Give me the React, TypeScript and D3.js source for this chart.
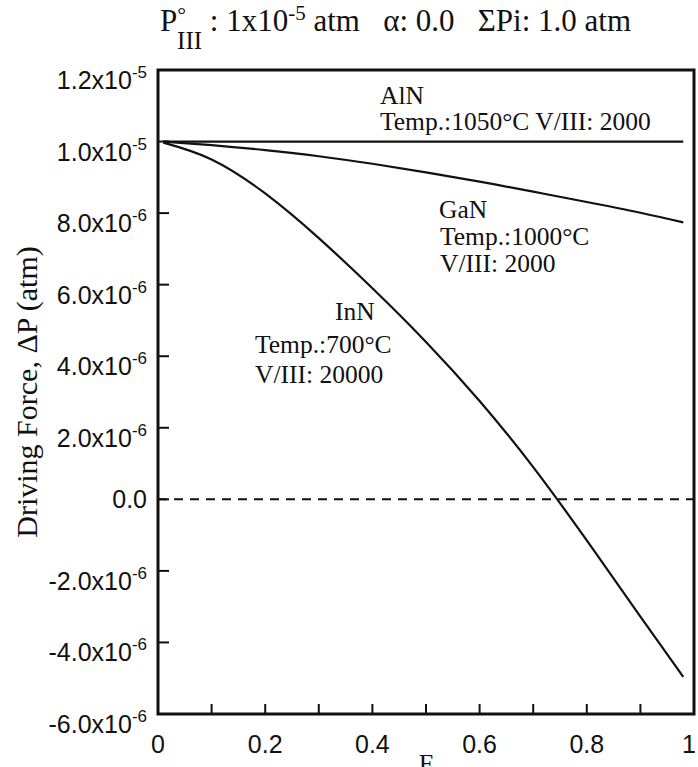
import React from "react";
import * as d3 from "d3";

// F (mole fraction) and driving force (atm)
const fValues = [0.01, 0.1, 0.2, 0.3, 0.4, 0.5, 0.6, 0.7, 0.8, 0.9, 0.98];
const alnValues = [1.0e-5, 1.0e-5, 1.0e-5, 1.0e-5, 1.0e-5, 1.0e-5, 1.0e-5, 1.0e-5, 1.0e-5, 1.0e-5, 1.0e-5];
const ganValues = [1.0e-5, 9.9e-6, 9.76e-6, 9.59e-6, 9.38e-6, 9.14e-6, 8.88e-6, 8.6e-6, 8.31e-6, 8.01e-6, 7.74e-6];
const innValues = [9.97e-6, 9.5e-6, 8.55e-6, 7.3e-6, 5.9e-6, 4.4e-6, 2.75e-6, 0.9e-6, -1.15e-6, -3.28e-6, -4.96e-6];

const xTicks = [0, 0.1, 0.2, 0.3, 0.4, 0.5, 0.6, 0.7, 0.8, 0.9, 1];
const xTickLabels = ["0", "", "0.2", "", "0.4", "", "0.6", "", "0.8", "", "1"];
const yTicks = [1.2e-5, 1.0e-5, 8e-6, 6e-6, 4e-6, 2e-6, 0, -2e-6, -4e-6, -6e-6];
const yTickMantissa = ["1.2", "1.0", "8.0", "6.0", "4.0", "2.0", "0.0", "-2.0", "-4.0", "-6.0"];
const yTickExponent = ["-5", "-5", "-6", "-6", "-6", "-6", "", "-6", "-6", "-6"];

const W = 698;
const H = 767;
const serif = "'Liberation Serif', 'Times New Roman', serif";
const sans = "'Liberation Sans', Arial, sans-serif";

export default function App() {
  const x = d3.scaleLinear().domain([0, 1]).range([158, 694]);
  const y = d3.scaleLinear().domain([-6e-6, 1.2e-5]).range([714, 70]);

  const line = d3
    .line<number>()
    .x((_, i) => x(fValues[i]))
    .y((d) => y(d))
    .curve(d3.curveNatural);

  const annot = { fontFamily: serif, fontSize: 25.5, fill: "#111" };

  return (
    <svg
      width={W}
      height={H}
      style={{ position: "absolute", left: 0, top: 0, background: "#fff" }}
    >
      {/* title */}
      <text x={160} y={31} fontFamily={serif} fontSize={31} fill="#111" style={{ whiteSpace: "pre" }}>
        <tspan>P</tspan>
        <tspan dy={-9} fontSize={22}>°</tspan>
        <tspan dx={-9} dy={27} fontSize={25}>III</tspan>
        <tspan dy={-18}> : 1x10</tspan>
        <tspan dy={-11} fontSize={21}>-5</tspan>
        <tspan dy={11}>{" atm   α: 0.0   ΣPi: 1.0 atm"}</tspan>
      </text>

      {/* zero line */}
      <line
        x1={x(0)}
        x2={x(1)}
        y1={y(0)}
        y2={y(0)}
        stroke="#111"
        strokeWidth={2}
        strokeDasharray="9 7"
      />

      {/* curves */}
      {[alnValues, ganValues, innValues].map((vals, i) => (
        <path key={i} d={line(vals) ?? ""} fill="none" stroke="#111" strokeWidth={2.2} />
      ))}

      {/* frame */}
      <rect
        x={x(0)}
        y={y(1.2e-5)}
        width={x(1) - x(0)}
        height={y(-6e-6) - y(1.2e-5)}
        fill="none"
        stroke="#111"
        strokeWidth={3}
      />

      {/* x ticks */}
      {xTicks.map((t, i) => (
        <g key={i}>
          {i > 0 && i < xTicks.length - 1 && (
            <line x1={x(t)} x2={x(t)} y1={y(-6e-6)} y2={y(-6e-6) - 10} stroke="#111" strokeWidth={2} />
          )}
          <text
            x={Math.min(x(t), W - 9)}
            y={753}
            textAnchor="middle"
            fontFamily={sans}
            fontSize={25}
            fill="#111"
          >
            {xTickLabels[i]}
          </text>
        </g>
      ))}

      {/* y ticks */}
      {yTicks.map((t, i) => (
        <g key={i}>
          {i > 0 && i < yTicks.length - 1 && (
            <line x1={x(0)} x2={x(0) + 11} y1={y(t)} y2={y(t)} stroke="#111" strokeWidth={2} />
          )}
          {yTickExponent[i] ? (
            <text x={147} y={y(t) + 19} textAnchor="end" fontFamily={sans} fontSize={25} fill="#111">
              {yTickMantissa[i]}x10
              <tspan dy={-11} fontSize={17}>{yTickExponent[i]}</tspan>
            </text>
          ) : (
            <text x={147} y={y(t) + 9} textAnchor="end" fontFamily={sans} fontSize={25} fill="#111">
              {yTickMantissa[i]}
            </text>
          )}
        </g>
      ))}

      {/* axis titles */}
      <text
        transform={`translate(37, ${(y(1.2e-5) + y(-6e-6)) / 2}) rotate(-90)`}
        textAnchor="middle"
        fontFamily={serif}
        fontSize={30}
        fill="#111"
      >
        Driving Force, ΔP (atm)
      </text>
      <text x={(x(0) + x(1)) / 2} y={772} textAnchor="middle" fontFamily={serif} fontSize={26} fill="#111">
        F
      </text>

      {/* annotations */}
      <text x={380} y={104} {...annot}>AlN</text>
      <text x={380} y={130} {...annot}>Temp.:1050°C V/III: 2000</text>

      <text x={439} y={218} {...annot}>GaN</text>
      <text x={440} y={245} {...annot}>Temp.:1000°C</text>
      <text x={440} y={272} {...annot}>V/III: 2000</text>

      <text x={335} y={320} {...annot}>InN</text>
      <text x={255} y={353} {...annot}>Temp.:700°C</text>
      <text x={255} y={383} {...annot}>V/III: 20000</text>
    </svg>
  );
}
